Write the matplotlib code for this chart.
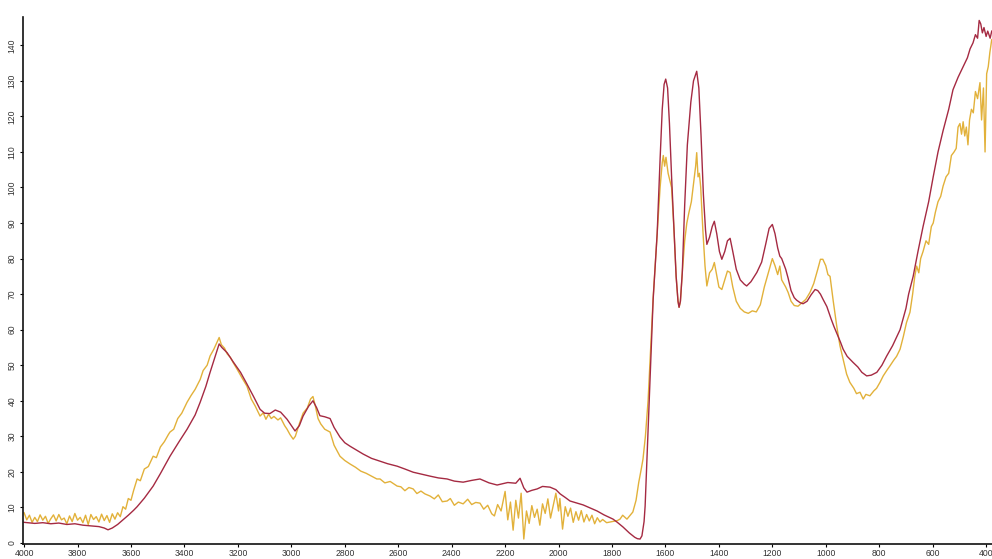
import matplotlib
matplotlib.use("Agg")
import matplotlib.pyplot as plt

# FTIR spectra: wavenumber (cm-1) vs. signal, two samples
red_wn = [4000, 3960, 3930, 3900, 3870, 3840, 3810, 3780, 3750, 3720, 3700, 3686, 3670, 3650,
          3630, 3610, 3590, 3577, 3550, 3517, 3490, 3454, 3420, 3390, 3360, 3341, 3320, 3304,
          3285, 3270, 3260, 3240, 3218, 3190, 3166, 3140, 3117, 3100, 3080, 3060, 3040, 3016,
          2995, 2986, 2970, 2956, 2935, 2919, 2905, 2893, 2875, 2855, 2840, 2818, 2800, 2780,
          2731, 2700, 2668, 2640, 2604, 2575, 2544, 2510, 2481, 2450, 2417, 2390, 2357, 2325,
          2294, 2260, 2230, 2190, 2160, 2144, 2130, 2118, 2100, 2080, 2060, 2032, 2010, 1994,
          1975, 1957, 1930, 1908, 1880, 1856, 1830, 1796, 1780, 1759, 1735, 1715, 1705, 1695,
          1688, 1680, 1676, 1665, 1655, 1646, 1631, 1620, 1612, 1605, 1599, 1592, 1585, 1577,
          1568, 1560, 1553, 1549, 1544, 1537, 1528, 1518, 1505, 1495, 1483, 1475, 1467, 1458,
          1450, 1445, 1435, 1425, 1417, 1408, 1398, 1389, 1378, 1368, 1358, 1348, 1335, 1320,
          1305, 1296, 1280, 1258, 1240, 1225, 1212, 1200, 1190, 1180, 1172, 1165, 1150, 1141,
          1130, 1118, 1109, 1096, 1085, 1070, 1055, 1040, 1030, 1020, 1010, 996, 980, 970,
          959, 945, 935, 920, 898, 880, 865, 847, 830, 809, 790, 772, 750, 722, 700, 690, 673,
          655, 636, 615, 598, 580, 561, 540, 524, 505, 486, 470, 460, 449, 440, 432, 426, 420,
          414, 408, 400, 394, 385, 379]
red_val = [5.8, 5.5, 5.7, 5.4, 5.6, 5.2, 5.4, 5.0, 4.8, 4.6, 4.2, 3.7, 4.2, 5.2,
           6.5, 7.8, 9.2, 10.2, 12.6, 16.0, 19.5, 24.4, 28.5, 32.0, 36.0, 39.6, 44.0, 48.0,
           52.5, 56.0, 55.0, 53.5, 51.0, 48.0, 44.7, 41.0, 37.6, 36.5, 36.4, 37.4, 36.8, 34.8,
           32.5, 31.5, 33.0, 35.7, 38.5, 40.0, 38.0, 35.8, 35.5, 35.0, 32.5, 29.8, 28.2, 27.2,
           25.0, 23.8, 23.0, 22.3, 21.6, 20.8, 19.9, 19.3, 18.8, 18.3, 18.0, 17.4, 17.1, 17.6,
           18.0, 16.9, 16.3, 17.0, 16.8, 18.2, 15.5, 14.3, 14.8, 15.2, 15.9, 15.7, 15.0, 13.8,
           12.8, 11.8, 11.2, 10.7, 9.8, 9.0, 7.9, 6.7, 5.8, 4.5, 2.8, 1.6, 1.2, 1.1,
           2.0, 6.0, 10.4, 32.0, 52.0, 68.5, 87.0, 108, 122, 129, 130.5, 128, 118, 103,
           88, 75, 68, 66.3, 68, 76, 95, 112, 124, 130, 132.7, 128, 115, 98,
           88, 84, 86, 89, 90.5, 87, 82, 79.8, 82, 85, 85.7, 82, 77, 74,
           72.8, 72.3, 73.5, 76.1, 79, 84, 88.5, 89.6, 87, 83, 80.7, 80, 77, 74.5,
           71, 69, 68.3, 67.6, 67.3, 68, 69.8, 71.3, 71, 70, 68.5, 66.5, 63, 61,
           59, 56.5, 54.5, 52.5, 50.8, 49.5, 48, 47, 47.2, 48, 50, 52.6, 55.5, 60, 66, 70, 75,
           82, 89, 96, 103, 110, 116, 122, 127.5, 131, 134, 136.5, 139, 140.7, 143, 142, 147, 146,
           143.5, 145, 142.5, 144, 142, 144]

yellow_wn = [4000, 3990, 3980, 3970, 3960, 3950, 3940, 3930, 3920, 3910, 3900, 3890, 3880, 3870,
             3860, 3850, 3840, 3830, 3820, 3810, 3800, 3790, 3780, 3770, 3760, 3750, 3740, 3730,
             3720, 3710, 3700, 3690, 3680, 3670, 3660, 3650, 3640, 3630, 3620, 3610, 3600, 3590,
             3577, 3565, 3550, 3535, 3517, 3505, 3490, 3475, 3460, 3454, 3440, 3425, 3410, 3390,
             3375, 3360, 3341, 3330, 3315, 3304, 3290, 3278, 3270, 3262, 3250, 3240, 3228, 3218,
             3200, 3185, 3166, 3150, 3135, 3117, 3105, 3095, 3085, 3075, 3065, 3050, 3040, 3025,
             3016, 3005, 2993, 2985, 2970, 2956, 2940, 2928, 2919, 2910, 2900, 2890, 2875, 2855,
             2840, 2818, 2800, 2780, 2760, 2740, 2720, 2700, 2680, 2668, 2650, 2630, 2604, 2590,
             2575, 2560, 2544, 2530, 2515, 2500, 2481, 2465, 2450, 2435, 2417, 2405, 2390, 2375,
             2357, 2340, 2325, 2310, 2294, 2280, 2265, 2250, 2240, 2228, 2215, 2200, 2190, 2180,
             2170, 2160, 2150, 2140, 2130, 2120, 2110, 2100, 2090, 2080, 2070, 2060, 2050, 2040,
             2030, 2020, 2010, 2000, 1995, 1985, 1975, 1965, 1955, 1945, 1935, 1925, 1915, 1905,
             1895, 1885, 1875, 1865, 1855, 1845, 1835, 1820, 1800, 1780, 1770, 1760, 1744, 1722,
             1710, 1700, 1690, 1684, 1675, 1665, 1655, 1646, 1631, 1620, 1612, 1608, 1603, 1598,
             1590, 1580, 1577, 1568, 1560, 1553, 1549, 1544, 1537, 1528, 1520, 1512, 1503, 1495,
             1487, 1483, 1478, 1473, 1468, 1460, 1452, 1445, 1435, 1425, 1417, 1410, 1400, 1389,
             1378, 1368, 1358, 1348, 1335, 1320, 1305, 1290, 1275, 1260, 1245, 1230, 1215, 1200,
             1190, 1180, 1172, 1165, 1150, 1141, 1130, 1118, 1104, 1090, 1075, 1059, 1045, 1030,
             1020, 1011, 1000, 992, 984, 972, 959, 947, 935, 922, 910, 895, 885, 872, 860, 850,
             835, 820, 810, 797, 785, 772, 760, 745, 735, 722, 710, 698, 685, 675, 667, 660, 652,
             645, 636, 625, 615, 605, 598, 590, 580, 570, 561, 550, 540, 530, 520, 512, 505, 498,
             492, 486, 480, 474, 468, 462, 455, 448, 440, 432, 423, 417, 410, 404, 398, 392, 386,
             379]
yellow_val = [8.5, 6.5, 7.8, 5.8, 7.2, 6.0, 7.9, 6.4, 7.5, 5.5, 6.8, 7.9, 6.2, 8.0,
              6.5, 7.0, 5.4, 7.6, 6.0, 8.3, 6.4, 7.2, 5.7, 7.8, 5.2, 8.0, 6.6, 7.4,
              5.9, 8.1, 6.3, 7.7, 5.8, 8.2, 6.7, 8.5, 7.4, 10.2, 9.5, 12.5, 12.0, 14.8,
              18.0, 17.5, 20.8, 21.5, 24.4, 24.0, 27.0, 28.5, 30.5, 31.2, 32.0, 35.0, 36.5, 39.6,
              41.5, 43.2, 46.0, 48.5, 50.0, 52.6, 54.5, 56.5, 57.8, 55.8, 54.8, 53.2, 52.2, 50.8,
              48.5, 46.5, 44.1, 40.5, 38.5, 35.7, 36.6, 34.8, 36.2, 35.0, 35.6, 34.6, 35.2, 33.0,
              32.0, 30.5, 29.2, 30.0, 33.5, 36.5, 38.0, 40.5, 41.2, 38.5, 35.0, 33.5, 32.0, 31.2,
              27.5, 24.4, 23.2, 22.2, 21.3, 20.2, 19.6, 18.8, 18.0, 18.0, 16.9, 17.3, 16.0, 15.8,
              14.7, 15.6, 15.2, 13.9, 14.6, 13.8, 13.2, 12.4, 13.5, 11.6, 11.8, 12.5, 10.6, 11.5,
              11.0, 12.3, 10.8, 11.4, 11.2, 9.5, 10.6, 8.2, 7.6, 10.8, 9.0, 14.5, 6.5, 11.5,
              3.6, 12.0, 7.0, 14.0, 1.1, 9.0, 5.5, 10.5, 7.2, 9.5, 5.0, 11.0, 8.3, 12.4,
              7.0, 10.5, 14.0, 9.0, 12.5, 3.9, 10.2, 7.5, 9.8, 5.8, 8.8, 6.4, 9.1, 5.9,
              8.0, 6.2, 7.8, 5.4, 7.1, 5.9, 6.6, 5.7, 6.0, 6.3, 6.7, 7.8, 6.7, 8.7,
              12.0, 17.0, 21.0, 23.6, 30.0, 40.0, 55.0, 69.0, 87.0, 100.0, 107.0, 109.0, 106.0, 108.5,
              104.0, 101.0, 100.0, 88.0, 75.0, 68.0, 66.3, 68.0, 76.0, 85.0, 90.0, 93.0, 96.0, 101.0,
              106.0, 109.8, 103.0, 104.0, 100.0, 88.0, 78.0, 72.3, 76.0, 77.0, 78.9, 76.0, 72.0, 71.3,
              74.0, 76.5, 76.1, 72.0, 68.0, 66.0, 65.0, 64.6, 65.3, 65.0, 67.0, 72.0, 76.0, 80.0,
              78.0, 75.5, 77.9, 74.0, 72.0, 70.5, 68.0, 66.8, 66.6, 67.5, 68.5, 70.5, 73.0, 77.0,
              79.8, 79.8, 78.0, 75.5, 75.0, 68.0, 61.0, 55.5, 51.7, 47.5, 45.2, 43.5, 42.0, 42.4, 40.5, 41.8,
              41.4, 42.8, 43.5, 45.2, 47.0, 48.5, 49.8, 51.5, 52.5, 54.5, 58.0, 62.0, 64.9, 70.0, 75.0, 77.9, 76.0,
              80.0, 82.0, 85.0, 84.0, 89.0, 90.0, 93.0, 96.0, 97.5, 100.4, 103.0, 104.0, 109.0, 110.0, 111.0, 117.0, 118.0,
              115.0, 118.5, 114.5, 117.0, 112.0, 119.0, 122.0, 121.0, 127.0, 125.0, 129.5, 119.0, 128.0, 110.0, 132.0, 134.0, 138.0,
              141.6]

x_ticks = [4000, 3800, 3600, 3400, 3200, 3000, 2800, 2600, 2400, 2200, 2000, 1800, 1600,
           1400, 1200, 1000, 800, 600, 400]
y_ticks = [0, 10, 20, 30, 40, 50, 60, 70, 80, 90, 100, 110, 120, 130, 140]

plt.rcParams['font.family'] = ['Liberation Sans', 'DejaVu Sans']

fig = plt.figure(figsize=(9.92, 5.59), dpi=100)
ax = fig.add_axes([0.0232, 0.0268, 0.9768, 0.943])

ax.plot(yellow_wn, yellow_val, color='#e2b13a', lw=1.0, clip_on=False)
ax.plot(red_wn, red_val, color='#a52a42', lw=1.0, clip_on=False)

ax.set_xlim(4004, 378)
ax.set_ylim(-0.3, 148)
ax.set_xticks(x_ticks)
ax.set_xticklabels([str(v) for v in x_ticks])
ax.set_yticks(y_ticks)
ax.set_yticklabels([str(v) for v in y_ticks], rotation=90, va='center')

ax.tick_params(axis='both', labelsize=6.2, labelcolor='#333333', length=2.5, width=0.8,
               direction='out')
ax.tick_params(axis='x', pad=1)
ax.tick_params(axis='y', pad=2)
for side in ('top', 'right'):
    ax.spines[side].set_visible(False)
for side in ('left', 'bottom'):
    ax.spines[side].set_linewidth(1.2)
    ax.spines[side].set_color('#111111')

fig.savefig('out.png', dpi=100)
